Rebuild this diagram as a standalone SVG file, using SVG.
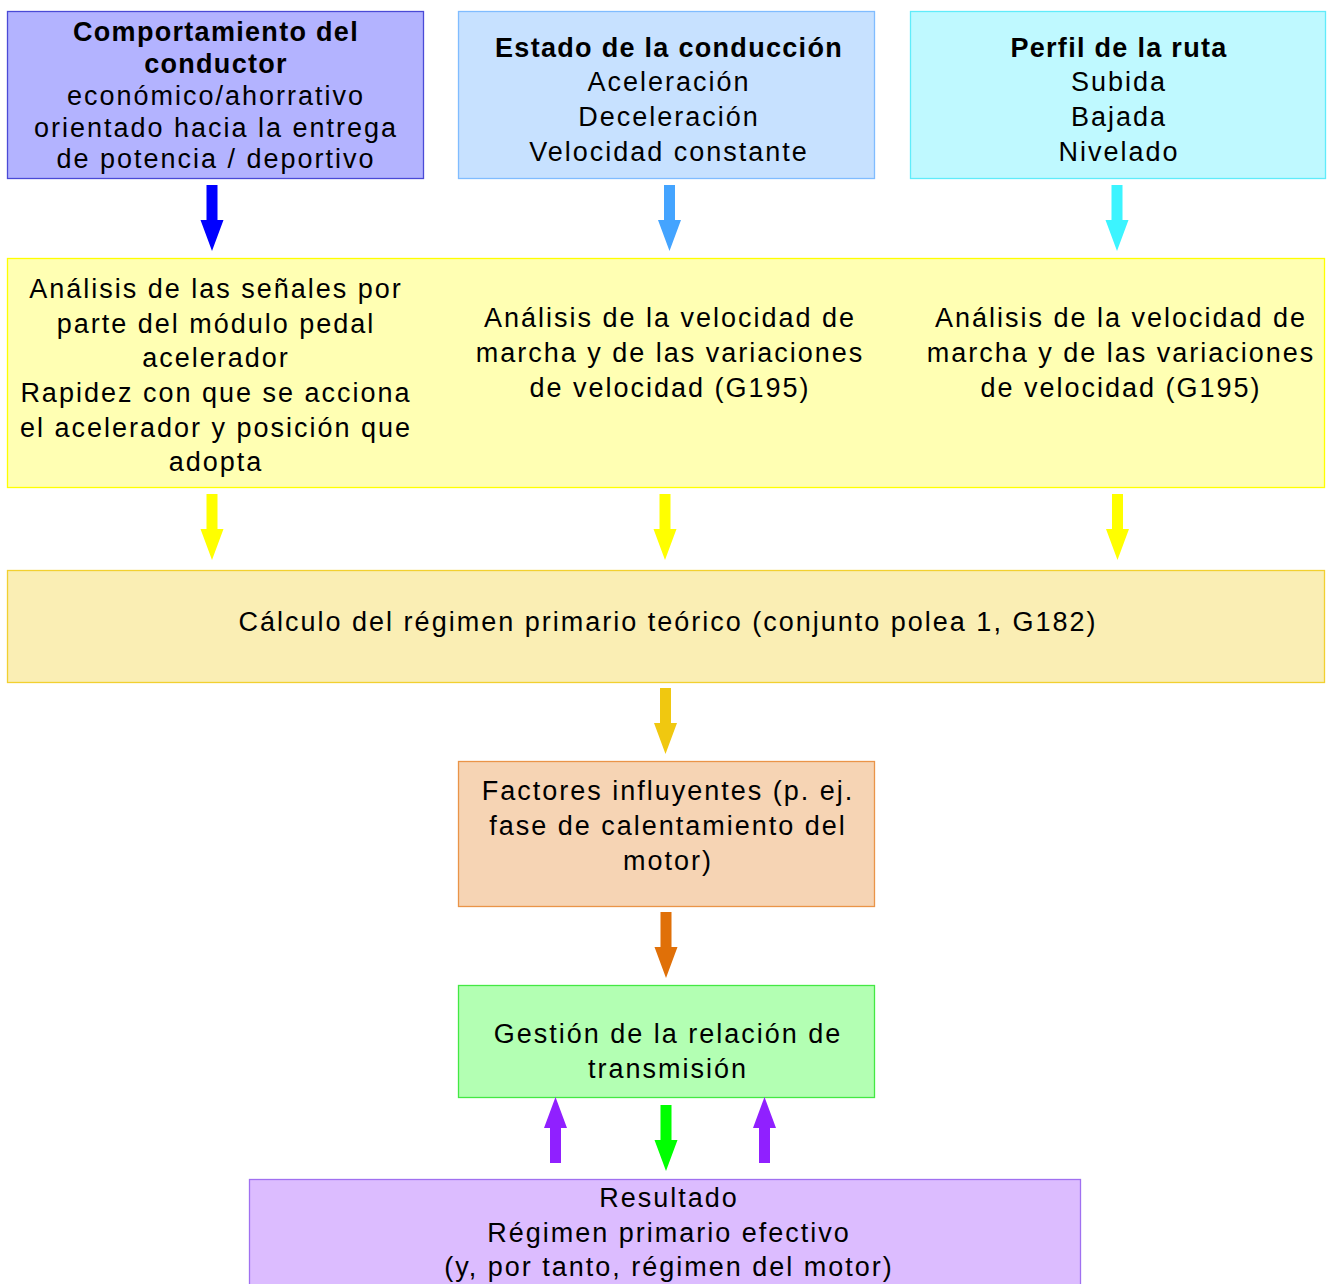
<svg xmlns="http://www.w3.org/2000/svg" xmlns:xlink="http://www.w3.org/1999/xlink" width="1331" height="1284" viewBox="0 0 1331 1284">
<style>
  text { font-family: "Liberation Sans", Arial, sans-serif; font-size: 27px; letter-spacing: 2px; fill: #000; text-anchor: middle; }
  text.b { font-weight: bold; letter-spacing: 1.3px; }
  rect { stroke-width: 1.3; }
</style>
<defs>
  <path id="dn" d="M-5.5,0 H5.5 V35 H11.5 L0,66 L-11.5,35 H-5.5 Z"/>
</defs>
<rect x="0" y="0" width="1331" height="1284" fill="#ffffff"/>

<g id="n-comportamiento">
  <rect x="7.5" y="11.5" width="416" height="167" fill="#b3b3ff" stroke="#4a4ad6"/>
  <text class="b" x="216" y="41">Comportamiento del</text>
  <text class="b" x="216" y="73">conductor</text>
  <text x="216" y="104.5">económico/ahorrativo</text>
  <text x="216" y="136.5">orientado hacia la entrega</text>
  <text x="216" y="168">de potencia / deportivo</text>
</g>

<g id="n-estado">
  <rect x="458.5" y="11.5" width="416" height="167" fill="#c7e1ff" stroke="#80bcff"/>
  <text class="b" x="669" y="57">Estado de la conducción</text>
  <text x="669" y="91">Aceleración</text>
  <text x="669" y="126">Deceleración</text>
  <text x="669" y="161">Velocidad constante</text>
</g>

<g id="n-perfil">
  <rect x="910.5" y="11.5" width="415" height="167" fill="#bff9ff" stroke="#60ecfa"/>
  <text class="b" x="1119" y="57">Perfil de la ruta</text>
  <text x="1119" y="91">Subida</text>
  <text x="1119" y="126">Bajada</text>
  <text x="1119" y="161">Nivelado</text>
</g>

<g id="n-analisis">
  <rect x="7.5" y="258.5" width="1317" height="229" fill="#ffffb3" stroke="#ffff00"/>
  <text x="216" y="298">Análisis de las señales por</text>
  <text x="216" y="332.5">parte del módulo pedal</text>
  <text x="216" y="367">acelerador</text>
  <text x="216" y="402">Rapidez con que se acciona</text>
  <text x="216" y="436.5">el acelerador y posición que</text>
  <text x="216" y="471">adopta</text>
  <text x="670" y="327">Análisis de la velocidad de</text>
  <text x="670" y="362">marcha y de las variaciones</text>
  <text x="670" y="396.5">de velocidad (G195)</text>
  <text x="1121" y="327">Análisis de la velocidad de</text>
  <text x="1121" y="362">marcha y de las variaciones</text>
  <text x="1121" y="396.5">de velocidad (G195)</text>
</g>

<g id="n-calculo">
  <rect x="7.5" y="570.5" width="1317" height="112" fill="#faeeb4" stroke="#f2d030"/>
  <text x="668" y="631">Cálculo del régimen primario teórico (conjunto polea 1, G182)</text>
</g>

<g id="n-factores">
  <rect x="458.5" y="761.5" width="416" height="145" fill="#f6d4b4" stroke="#ea9448"/>
  <text x="668" y="799.5">Factores influyentes (p. ej.</text>
  <text x="668" y="834.5">fase de calentamiento del</text>
  <text x="668" y="869.5">motor)</text>
</g>

<g id="n-gestion">
  <rect x="458.5" y="985.5" width="416" height="112" fill="#b3ffb3" stroke="#44e844"/>
  <text x="668" y="1042.5">Gestión de la relación de</text>
  <text x="668" y="1077.5">transmisión</text>
</g>

<g id="n-resultado">
  <rect x="249.5" y="1179.5" width="831" height="120" fill="#dcbcff" stroke="#a070f0"/>
  <text x="669" y="1206.5">Resultado</text>
  <text x="669" y="1241.5">Régimen primario efectivo</text>
  <text x="669" y="1276">(y, por tanto, régimen del motor)</text>
</g>

<g id="connectors">
  <use xlink:href="#dn" href="#dn" transform="translate(212,185)" fill="#0000ff"/>
  <use xlink:href="#dn" href="#dn" transform="translate(669.5,185)" fill="#44a4ff"/>
  <use xlink:href="#dn" href="#dn" transform="translate(1117,185)" fill="#3cf4ff"/>
  <use xlink:href="#dn" href="#dn" transform="translate(212,494)" fill="#ffff00"/>
  <use xlink:href="#dn" href="#dn" transform="translate(665,494)" fill="#ffff00"/>
  <use xlink:href="#dn" href="#dn" transform="translate(1117.5,494)" fill="#ffff00"/>
  <use xlink:href="#dn" href="#dn" transform="translate(665.5,688)" fill="#f0c810"/>
  <use xlink:href="#dn" href="#dn" transform="translate(666,912)" fill="#e07008"/>
  <use xlink:href="#dn" href="#dn" transform="translate(666,1105)" fill="#00ff00"/>
  <use xlink:href="#dn" href="#dn" transform="translate(555.5,1163) scale(1,-1)" fill="#9020ff"/>
  <use xlink:href="#dn" href="#dn" transform="translate(764.5,1163) scale(1,-1)" fill="#9020ff"/>
</g>
</svg>
